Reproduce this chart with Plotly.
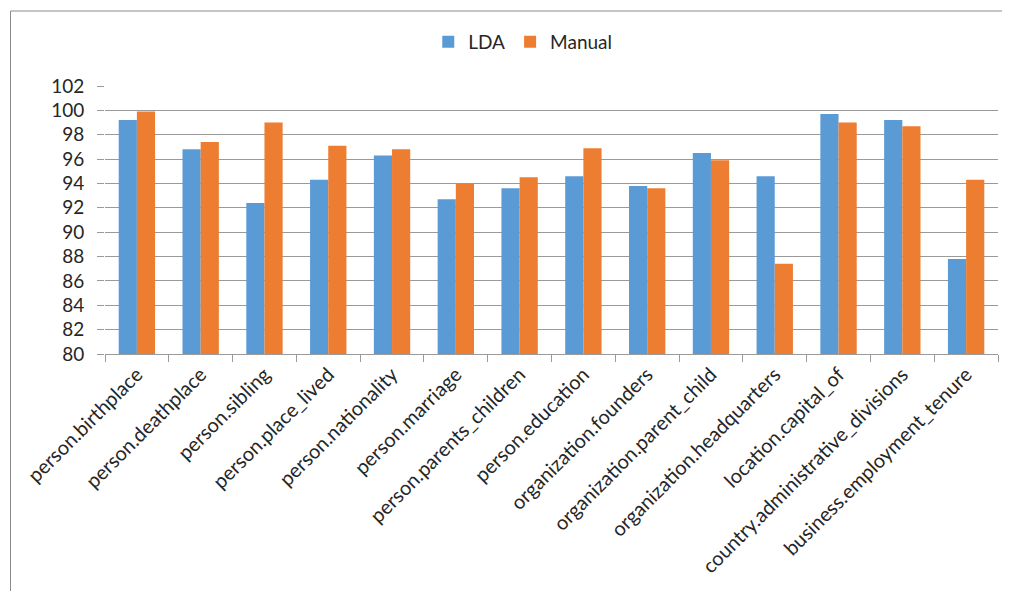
import plotly.graph_objects as go

categories = [
    "person.birthplace", "person.deathplace", "person.sibling", "person.place_lived",
    "person.nationality", "person.marriage", "person.parents_children", "person.education",
    "organization.founders", "organization.parent_child", "organization.headquarters",
    "location.capital_of", "country.administrative_divisions", "business.employment_tenure",
]
lda = [99.2, 96.8, 92.4, 94.3, 96.3, 92.7, 93.6, 94.6, 93.8, 96.5, 94.6, 99.7, 99.2, 87.8]
manual = [99.9, 97.4, 99.0, 97.1, 96.8, 94.0, 94.5, 96.9, 93.6, 95.9, 87.4, 99.0, 98.7, 94.3]
y_ticks = list(range(80, 103, 2))

FONT = "Lato, 'Open Sans', sans-serif"
GRID = "#9a9a9a"
TXT = "#262626"

fig = go.Figure()
fig.add_trace(go.Bar(name="LDA", x=categories, y=lda, marker_color="#5B9BD5",
                     marker_line_width=0))
fig.add_trace(go.Bar(name="Manual", x=categories, y=manual, marker_color="#ED7D31",
                     marker_line_width=0))

W, H = 1011, 591
L, R, T, B = 105, 13, 86, 237

fig.update_layout(
    width=W, height=H,
    margin=dict(l=L, r=R, t=T, b=B, pad=0),
    paper_bgcolor="white", plot_bgcolor="white",
    barmode="group", bargap=0.43, bargroupgap=0,
    font=dict(family=FONT, size=19, color=TXT),
    showlegend=True,
    legend=dict(orientation="h", x=0.362, xanchor="left", y=1.165, yanchor="middle",
                font=dict(size=19, color=TXT), itemwidth=30, traceorder="normal",
                bgcolor="rgba(0,0,0,0)"),
    xaxis=dict(
        type="category", tickangle=-45, ticks="outside", tickson="boundaries",
        ticklen=7, tickcolor=GRID, tickwidth=1,
        showline=True, linecolor=GRID, linewidth=1, showgrid=False,
        tickfont=dict(family=FONT, size=20, color=TXT),
    ),
    yaxis=dict(
        range=[80, 102], tickvals=y_ticks, ticktext=[str(v) for v in y_ticks],
        ticks="outside", ticklen=7, tickcolor=GRID, tickwidth=1,
        showline=False, showgrid=True, gridcolor=GRID, gridwidth=1, zeroline=False,
        tickfont=dict(family=FONT, size=19, color=TXT), ticklabelstandoff=9,
    ),
)

# chart border (top and left edges visible in the reference)
pw = W - L - R
ph = H - T - B
def px_x(p):
    return (p - L) / pw
def px_y(p):
    return (H - B - p) / ph
fig.add_shape(type="line", xref="paper", yref="paper",
              x0=px_x(10.5), x1=px_x(1002), y0=px_y(11), y1=px_y(11),
              line=dict(color="#8c8c8c", width=1))
fig.add_shape(type="line", xref="paper", yref="paper",
              x0=px_x(10.5), x1=px_x(10.5), y0=px_y(11), y1=px_y(600),
              line=dict(color="#8c8c8c", width=1))

fig.write_html("out.html")
